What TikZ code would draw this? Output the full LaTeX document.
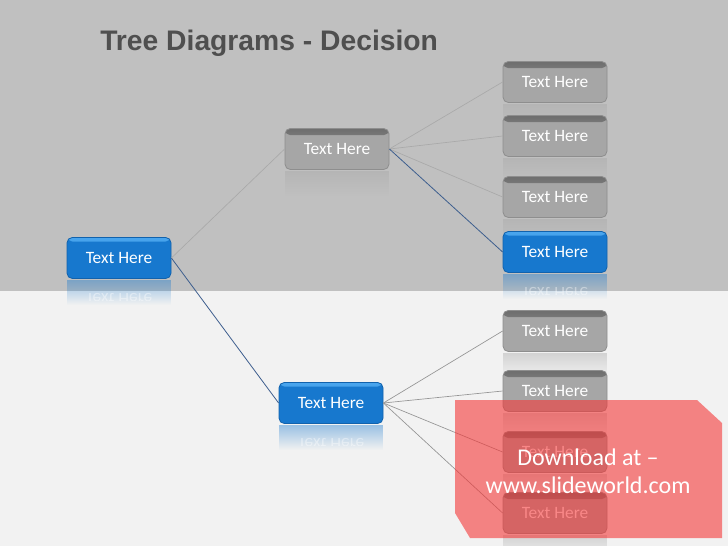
\documentclass[tikz,border=0pt]{standalone}
\usepackage{fontspec}
\usepackage{xcolor}
\usepackage{tikz}
\usetikzlibrary{positioning,calc,fadings,backgrounds}
\newfontfamily\boxfont{Carlito}
\newfontfamily\titlefont{Liberation Sans}
\definecolor{TopBg}{HTML}{C0C0C0}
\definecolor{LowBg}{HTML}{F2F2F2}
\definecolor{TitleGray}{HTML}{4F4F4F}
\definecolor{GrayBox}{HTML}{A6A6A6}
\definecolor{GrayEdge}{HTML}{8E8E8E}
\definecolor{GrayTop}{HTML}{6E6E6E}
\definecolor{BoxBlue}{HTML}{1778CE}
\definecolor{BlueEdge}{HTML}{1262AC}
\definecolor{BlueTop}{HTML}{4AA6EE}
\definecolor{LinkGray}{HTML}{A9A9A9}
\definecolor{LinkDark}{HTML}{959595}
\definecolor{LinkBlue}{HTML}{3D5E8E}
\definecolor{WmRed}{HTML}{F53838}

\begin{document}
\begin{tikzpicture}[
  x=0.75pt, y=-0.75pt,
  box/.style={minimum width=78pt,minimum height=30.75pt,inner sep=0pt,rounded corners=4pt,
    line width=.6pt,text=white,font=\boxfont\fontsize{13}{15}\selectfont},
  graybox/.style={box,draw=GrayEdge,fill=GrayBox,
    path picture={\shade[top color=GrayTop,bottom color=GrayBox]
      (path picture bounding box.north west) rectangle ([yshift=-5pt]path picture bounding box.north east);}},
  bluebox/.style={box,draw=BlueEdge,fill=BoxBlue,
    path picture={\shade[top color=BlueTop,bottom color=BoxBlue]
      (path picture bounding box.north west) rectangle ([yshift=-3pt]path picture bounding box.north east);}},
  mirror/.style={text=white,text opacity=.4,yscale=-1,font=\boxfont\fontsize{13}{15}\selectfont},
  grayline/.style={draw=LinkGray,line width=.5pt},
  darkline/.style={draw=LinkDark,line width=.5pt},
  blueline/.style={draw=LinkBlue,line width=.6pt},
  title/.style={text=TitleGray,font=\titlefont\bfseries\fontsize{21.2}{25}\selectfont,inner sep=0pt},
  wmtext/.style={text=white,font=\boxfont\fontsize{18}{21}\selectfont,inner sep=0pt}
]
\useasboundingbox (0,0) rectangle (728,546);

\node[title,anchor=base west] (title) at (100,50) {Tree Diagrams - Decision};

% tree
\node[bluebox] (root) at (119,258) {Text Here};
\node[graybox] (up) at (337,149) {Text Here};
\node[bluebox] (low) at (331,403) {Text Here};
\node[graybox] (u1) at (555,82) {Text Here};
\node[graybox] (u2) at (555,136) {Text Here};
\node[graybox] (u3) at (555,197) {Text Here};
\node[bluebox] (u4) at (555,252) {Text Here};
\node[graybox] (l1) at (555,331) {Text Here};
\node[graybox] (l2) at (555,391) {Text Here};
\node[graybox] (l3) at (555,452) {Text Here};
\node[graybox] (l4) at (555,513) {Text Here};

\begin{scope}[on background layer]
  % background
  \fill[TopBg] (0,0) rectangle (728,291);
  \fill[LowBg] (0,291) rectangle (728,546);
  % reflections
  \foreach \n/\c in {root/BoxBlue,up/GrayBox,low/BoxBlue,u1/GrayBox,u2/GrayBox,u3/GrayBox,
      u4/BoxBlue,l1/GrayBox,l2/GrayBox,l3/GrayBox,l4/GrayBox}
    \fill[\c,path fading=south,opacity=.4] ([yshift=-1pt]\n.south west) rectangle ($(\n.south east)+(0,26)$);
  \foreach \n in {root,low,u4}{
    \begin{scope}
      \clip ([yshift=-1pt]\n.south west) rectangle ($(\n.south east)+(0,22)$);
      \node[mirror] at ($(\n.south)+(0,20.5)$) {Text Here};
    \end{scope}
  }
\end{scope}

\draw[grayline] (root.east) -- (up.west);
\draw[blueline] (root.east) -- (low.west);
\foreach \t in {u1,u2,u3}
  \draw[grayline] (up.east) -- (\t.west);
\draw[blueline] (up.east) -- (u4.west);
\foreach \t in {l1,l2,l3,l4}
  \draw[darkline] (low.east) -- (\t.west);

% watermark
\fill[WmRed,opacity=.6] (455,400) -- (697,400) -- (722,423) -- (722,538) -- (470,538) -- (455,513) -- cycle;
\node[wmtext,anchor=base] (dl) at (588,465) {Download at –};
\node[wmtext,anchor=base] (site) at (588,493) {www.slideworld.com};
\end{tikzpicture}
\end{document}
